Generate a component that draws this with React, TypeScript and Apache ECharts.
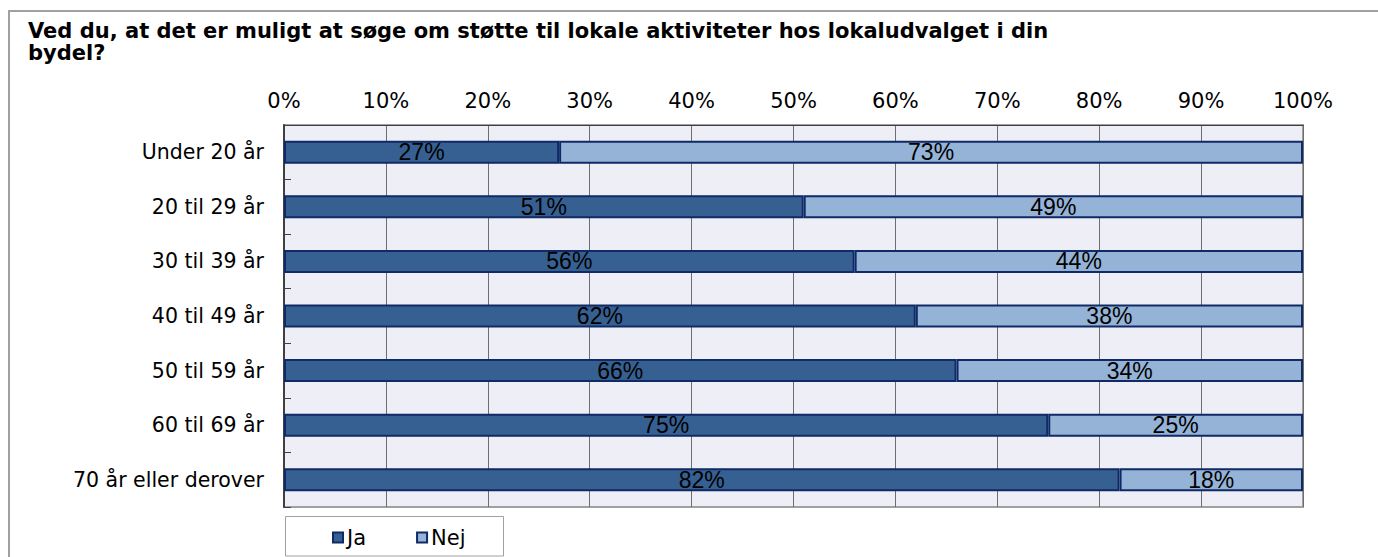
import React, { useEffect, useRef } from "react";
import * as echarts from "echarts";

const titleText = "Ved du, at det er muligt at søge om støtte til lokale aktiviteter hos lokaludvalget i din\nbydel?";
const categories = ["Under 20 år", "20 til 29 år", "30 til 39 år", "40 til 49 år", "50 til 59 år", "60 til 69 år", "70 år eller derover"];
const jaValues = [27, 51, 56, 62, 66, 75, 82];
const nejValues = [73, 49, 44, 38, 34, 25, 18];
const seriesNames = ["Ja", "Nej"];

export default function App() {
  const ref = useRef<HTMLDivElement>(null);
  useEffect(() => {
    if (!ref.current) return;
    const chart = echarts.init(ref.current, null, { renderer: "svg" });
    const border = "#0f2a66";
    const labelCommon = {
      show: true,
      position: "inside",
      formatter: "{c}%",
      color: "#000",
      fontFamily: "Liberation Sans",
      fontSize: 23,
    };
    chart.setOption({
      animation: false,
      backgroundColor: "#fff",
      title: {
        text: titleText,
        left: 28,
        top: 20,
        padding: 0,
        textStyle: {
          fontFamily: "DejaVu Sans",
          fontWeight: "bold",
          fontSize: 21,
          lineHeight: 22,
          color: "#000",
        },
      },
      graphic: [
        { type: "rect", shape: { x: 8, y: 10, width: 1400, height: 2 }, style: { fill: "#a0a0a0" } },
        { type: "rect", shape: { x: 8, y: 10, width: 2, height: 600 }, style: { fill: "#a0a0a0" } },
        {
          type: "rect",
          shape: { x: 285.5, y: 516.5, width: 218, height: 39.5 },
          style: { fill: "#fff", stroke: "#a0a0a0", lineWidth: 1 },
          z: 0,
        },
      ],
      legend: {
        left: 332,
        top: 527,
        itemWidth: 10,
        itemHeight: 10,
        itemGap: 50,
        padding: 0,
        icon: "rect",
        textStyle: { fontFamily: "DejaVu Sans", fontSize: 21, color: "#000", padding: [0, 0, 0, -1] },
        data: seriesNames,
        z: 10,
      },
      grid: {
        left: 284,
        right: 75,
        top: 125,
        bottom: 50,
        show: true,
        backgroundColor: "#eeeef7",
        borderColor: "#a0a0a0",
        borderWidth: 2,
      },
      xAxis: {
        type: "value",
        position: "top",
        min: 0,
        max: 100,
        interval: 10,
        axisLine: { show: true, lineStyle: { color: "#404040", width: 1 } },
        axisTick: { show: false },
        axisLabel: {
          formatter: "{value}%",
          fontFamily: "DejaVu Sans",
          fontSize: 21,
          color: "#000",
          margin: 14,
        },
        splitLine: { show: true, lineStyle: { color: "#6e6e6e", width: 1 } },
      },
      yAxis: {
        type: "category",
        inverse: true,
        data: categories,
        axisLine: { show: true, lineStyle: { color: "#404040", width: 2 } },
        axisTick: { show: true, inside: true, length: 7, lineStyle: { color: "#404040", width: 1 } },
        axisLabel: {
          fontFamily: "DejaVu Sans",
          fontSize: 20.5,
          color: "#000",
          margin: 20,
        },
      },
      series: [
        {
          name: seriesNames[0],
          type: "bar",
          stack: "total",
          barWidth: 23,
          data: jaValues,
          itemStyle: { color: "#376092", borderColor: border, borderWidth: 2 },
          label: labelCommon,
        },
        {
          name: seriesNames[1],
          type: "bar",
          stack: "total",
          barWidth: 23,
          data: nejValues,
          itemStyle: { color: "#95b3d7", borderColor: border, borderWidth: 2 },
          label: labelCommon,
        },
      ],
    });
    return () => chart.dispose();
  }, []);
  return <div ref={ref} style={{ position: "fixed", left: 0, top: 0, width: 1378, height: 557 }} />;
}
